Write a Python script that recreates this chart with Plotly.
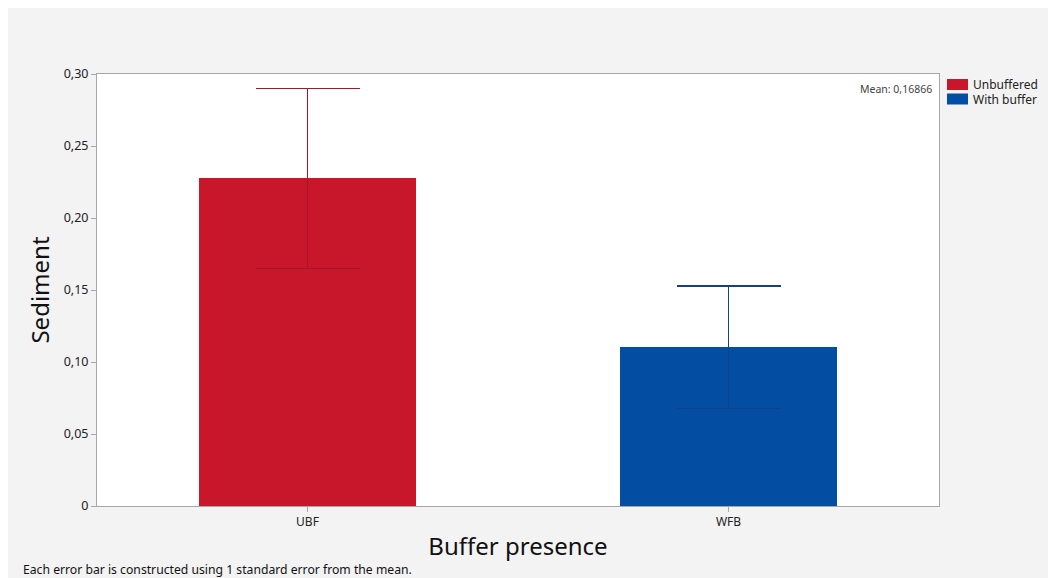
import plotly.graph_objects as go

categories = ["UBF", "WFB"]
series_names = ["Unbuffered", "With buffer"]
means = [0.2275, 0.1102]
std_errors = [0.0625, 0.0426]
bar_colors = ["#c8172a", "#034ea2"]
err_colors = ["#a3172a", "#163f86"]
ytick_vals = [0, 0.05, 0.10, 0.15, 0.20, 0.25, 0.30]
ytick_text = ["0", "0,05", "0,10", "0,15", "0,20", "0,25", "0,30"]
overall_mean_label = "Mean: 0,16866"
footnote = "Each error bar is constructed using 1 standard error from the mean."

FONT = "Noto Sans, Open Sans, sans-serif"
# page body adds an 8px offset; work in page pixels and convert
OX, OY = 8, 8
W, H = 1056 - OX, 578 - OY
L, R, T, B = 97, 939, 74, 506  # page pixels of plot area

fig = go.Figure()
for cat, name, m, se, c, ec in zip(categories, series_names, means, std_errors, bar_colors, err_colors):
    fig.add_trace(go.Bar(
        x=[cat], y=[m], name=name, marker=dict(color=c, line=dict(width=0)),
        width=0.515,
        error_y=dict(type="data", array=[se], visible=True, color=ec, thickness=1.2, width=52),
        showlegend=False,
    ))

def px(xp):
    return (xp - L) / (R - L)

def py(yp):
    return (B - yp) / (B - T)

shapes = []
annotations = []
# custom legend
for i, (name, c) in enumerate(zip(series_names, bar_colors)):
    y0 = 79 + i * 14.5
    shapes.append(dict(type="rect", xref="paper", yref="paper", x0=px(947), x1=px(968),
                       y0=py(y0 + 11), y1=py(y0), fillcolor=c, line=dict(width=0)))
    annotations.append(dict(text=name, xref="paper", yref="paper", x=px(971), y=py(y0 + 5.5),
                            xanchor="left", yanchor="middle", showarrow=False,
                            font=dict(size=12, color="#222222", family=FONT)))

annotations.append(dict(text=overall_mean_label, xref="paper", yref="paper", x=px(934), y=py(89),
                        xanchor="right", yanchor="middle", showarrow=False,
                        font=dict(size=10.5, color="#444444", family=FONT)))
annotations.append(dict(text=footnote, xref="paper", yref="paper", x=px(21), y=py(569),
                        xanchor="left", yanchor="middle", showarrow=False,
                        font=dict(size=12.2, color="#111111", family=FONT)))

fig.update_layout(
    width=W, height=H,
    margin=dict(l=L - OX, r=(W + OX) - R, t=T - OY, b=(H + OY) - B, pad=0),
    paper_bgcolor="#f3f3f3", plot_bgcolor="white",
    barmode="overlay", bargap=0,
    font=dict(family=FONT, size=12, color="#222222"),
    shapes=shapes, annotations=annotations,
    showlegend=False,
)
fig.update_xaxes(
    range=[-0.5, 1.5], showline=True, mirror=True, linecolor="#a8a8a8", linewidth=1,
    ticks="outside", ticklen=5, tickcolor="#a8a8a8",
    tickfont=dict(size=12, color="#222222"),
    title=dict(text="Buffer presence", font=dict(size=24, color="#111111"), standoff=8),
)
fig.update_yaxes(
    range=[0, 0.30], showline=True, mirror=True, linecolor="#a8a8a8", linewidth=1,
    showgrid=False, zeroline=False,
    tickvals=ytick_vals, ticktext=ytick_text,
    ticks="outside", ticklen=5, tickcolor="#a8a8a8",
    tickfont=dict(size=12.5, color="#222222"),
    title=dict(text="Sediment", font=dict(size=24, color="#111111"), standoff=7),
)

fig.write_html("out.html")
